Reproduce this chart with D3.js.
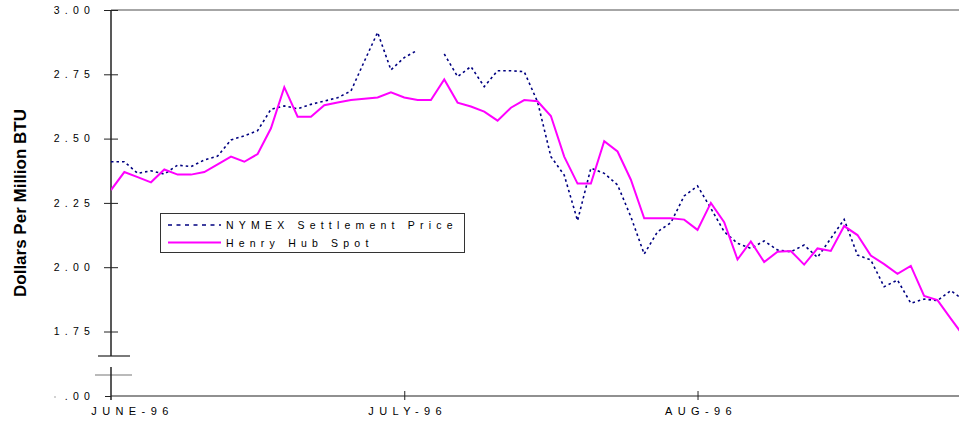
<!DOCTYPE html>
<meta charset="utf-8">

<style>

* {
	margin: 0;
	padding: 0;
}

body {
	background: #fff;
	overflow: hidden;
}

svg {
	display: block;
	font-family: "Liberation Sans", Arial, sans-serif;
}

.lbl {
	font-size: 10.5px;
	letter-spacing: 5.2px;
	fill: #000;
}

.xlbl {
	font-size: 11px;
	letter-spacing: 5.4px;
	fill: #000;
}

.title {
	font-size: 17px;
	font-weight: bold;
}

.nymex {
	fill: none;
	stroke: #000080;
	stroke-width: 1.6;
	stroke-dasharray: 2.5,3;
}

.henry {
	fill: none;
	stroke: #ff00ff;
	stroke-width: 2;
}

</style>

<body>

<script src="https://cdn.jsdelivr.net/npm/d3@7"></script>

<script>

// trading day index 0..64 (june 1996 to end of aug 1996)
var henryHub = [
	2.30, 2.37, 2.35, 2.33, 2.38, 2.36, 2.36, 2.37, 2.40, 2.43,
	2.41, 2.44, 2.54, 2.70, 2.585, 2.585, 2.63, 2.64, 2.65, 2.655,
	2.66, 2.68, 2.66, 2.65, 2.65, 2.73, 2.64, 2.625, 2.605, 2.57,
	2.62, 2.65, 2.645, 2.588, 2.43, 2.325, 2.325, 2.49, 2.45, 2.34,
	2.19, 2.19, 2.19, 2.185, 2.145, 2.25, 2.175, 2.03, 2.10, 2.02,
	2.06, 2.063, 2.01, 2.073, 2.063, 2.16, 2.125, 2.045, 2.012, 1.974,
	2.005, 1.888, 1.872, 1.80, 1.73
];

var nymex = [
	2.41, 2.41, 2.365, 2.375, 2.362, 2.397, 2.391, 2.417, 2.432, 2.495,
	2.511, 2.531, 2.614, 2.627, 2.616, 2.633, 2.646, 2.659, 2.685, 2.80,
	2.913, 2.767, 2.815, 2.844, null, 2.829, 2.741, 2.780, 2.702, 2.764,
	2.764, 2.760, 2.643, 2.43, 2.358, 2.181, 2.385, 2.365, 2.320, 2.196,
	2.051, 2.138, 2.173, 2.277, 2.316, 2.229, 2.138, 2.093, 2.073, 2.102,
	2.067, 2.060, 2.086, 2.038, 2.112, 2.186, 2.047, 2.028, 1.924, 1.950,
	1.860, 1.876, 1.870, 1.909, 1.871
];

var monthIndex = [0, 22, 44];
var monthLabels = ["JUNE-96", "JULY-96", "AUG-96"];

var yTicks = [1.75, 2.00, 2.25, 2.50, 2.75, 3.00];

var seriesNames = ["NYMEX Settlement Price", "Henry Hub Spot"];

var width = 959,
    height = 425,
    plotLeft = 111,
    plotTop = 10,
    plotBottom = 396,
    step = 13.33;

var svg = d3.select("body").append("svg")
    .attr("width", width)
    .attr("height", height);

var x = d3.scaleLinear()
    .domain([0, henryHub.length - 1])
    .range([plotLeft, plotLeft + (henryHub.length - 1) * step]);

var y = d3.scaleLinear()
    .domain([1.75, 3.00])
    .range([331.5, plotTop]);

// the ".00" part of the broken axis
var yLow = d3.scaleLinear()
    .domain([0, 1])
    .range([plotBottom, plotBottom - 257]);

// top frame line
svg.append("line")
    .attr("x1", plotLeft).attr("x2", width)
    .attr("y1", plotTop).attr("y2", plotTop)
    .attr("stroke", "#888")
    .attr("stroke-width", 1.5);

// y axis, upper part
var yAxis = svg.append("g")
    .attr("transform", "translate(" + plotLeft + ",0)")
    .call(d3.axisLeft(y).tickValues(yTicks).tickSize(7).tickFormat(d3.format(".2f")));

yAxis.select(".domain").remove();
yAxis.selectAll(".tick line").attr("x1", 7).attr("stroke", "#222");
yAxis.selectAll(".tick text")
    .attr("class", "lbl")
    .attr("x", -16)
    .attr("font-family", null)
    .attr("font-size", null);

svg.append("line")
    .attr("x1", plotLeft).attr("x2", plotLeft)
    .attr("y1", plotTop).attr("y2", 356)
    .attr("stroke", "#222")
    .attr("stroke-width", 1.5);

// break marks
svg.append("line")
    .attr("x1", 98).attr("x2", 130)
    .attr("y1", 356).attr("y2", 356)
    .attr("stroke", "#222")
    .attr("stroke-width", 1.2);

svg.append("line")
    .attr("x1", 95).attr("x2", 132)
    .attr("y1", 375).attr("y2", 375)
    .attr("stroke", "#777")
    .attr("stroke-width", 1.2);

svg.append("line")
    .attr("x1", plotLeft).attr("x2", plotLeft)
    .attr("y1", 367).attr("y2", plotBottom + 4)
    .attr("stroke", "#222")
    .attr("stroke-width", 1.5);

// y axis, lower part (.00)
var yAxisLow = svg.append("g")
    .attr("transform", "translate(" + plotLeft + ",0)")
    .call(d3.axisLeft(yLow).tickValues([0]).tickSize(6).tickFormat(function() { return ".00"; }));

yAxisLow.select(".domain").remove();
yAxisLow.selectAll(".tick line").attr("stroke", "#222");
yAxisLow.selectAll(".tick text")
    .attr("class", "lbl")
    .attr("x", -16)
    .attr("font-family", null)
    .attr("font-size", null);

svg.append("circle")
    .attr("cx", 55).attr("cy", plotBottom + 1)
    .attr("r", 0.8)
    .attr("fill", "#999");

// x axis
var xAxis = svg.append("g")
    .attr("transform", "translate(0," + plotBottom + ")")
    .call(d3.axisBottom(x).tickValues(monthIndex).tickSize(4)
        .tickFormat(function(d, i) { return monthLabels[i]; }));

xAxis.select(".domain")
    .attr("d", "M" + plotLeft + ",0H" + width)
    .attr("stroke", "#222")
    .attr("stroke-width", 1.2);

xAxis.selectAll(".tick line").attr("y1", -5).attr("stroke", "#222");
xAxis.selectAll(".tick text")
    .attr("class", "xlbl")
    .attr("y", 19)
    .attr("dy", 0)
    .attr("dx", 3)
    .attr("font-family", null)
    .attr("font-size", null);

xAxis.selectAll(".tick").filter(function(d) { return d == 0; })
    .select("text").attr("dx", 21);
xAxis.selectAll(".tick").filter(function(d) { return d == 0; })
    .select("line").remove();

// y title
svg.append("text")
    .attr("class", "title")
    .attr("transform", "translate(26,203) rotate(-90)")
    .attr("text-anchor", "middle")
    .text("Dollars Per Million BTU");

// lines
svg.append("clipPath").attr("id", "plot-clip")
    .append("rect")
    .attr("x", plotLeft).attr("y", 0)
    .attr("width", width - plotLeft).attr("height", plotBottom);

var line = d3.line()
    .defined(function(d) { return d != null; })
    .x(function(d, i) { return x(i); })
    .y(function(d) { return y(d); });

svg.append("path")
    .datum(nymex)
    .attr("class", "nymex")
    .attr("clip-path", "url(#plot-clip)")
    .attr("d", line);

svg.append("path")
    .datum(henryHub)
    .attr("class", "henry")
    .attr("clip-path", "url(#plot-clip)")
    .attr("d", line);

// legend
var legend = svg.append("g");

legend.append("rect")
    .attr("x", 160.5).attr("y", 213.5)
    .attr("width", 304).attr("height", 39)
    .attr("fill", "#fff")
    .attr("stroke", "#333")
    .attr("stroke-width", 1);

seriesNames.forEach(function(name, i) {
	var ly = 225 + i * 17.5;

	legend.append("line")
	    .attr("class", i == 0 ? "nymex" : "henry")
	    .attr("x1", 168).attr("x2", 221)
	    .attr("y1", ly).attr("y2", ly)
	    .style("stroke-dasharray", i == 0 ? "4,4.5" : null);

	legend.append("text")
	    .attr("class", "lbl")
	    .attr("x", 226)
	    .attr("y", ly + 4)
	    .text(name);
});

</script>
